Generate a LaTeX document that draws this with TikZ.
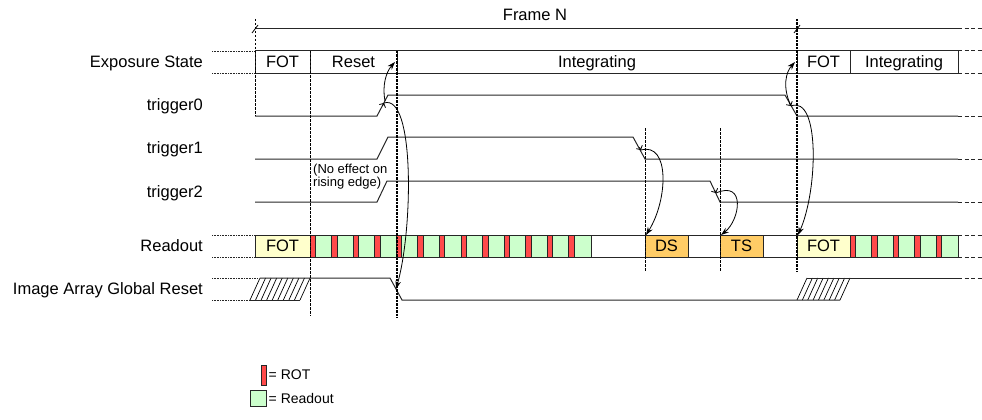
\documentclass[tikz,border=0pt]{standalone}
\usepackage{fontspec}
\setmainfont{Liberation Sans}
\usetikzlibrary{arrows.meta,calc}
\definecolor{fotc}{HTML}{FFFFCC}
\definecolor{rdc}{HTML}{CCFFCC}
\definecolor{rotc}{HTML}{FF4A4A}
\definecolor{dsc}{HTML}{FFCC66}
\definecolor{lnc}{HTML}{262626}
\begin{document}
\begin{tikzpicture}[x=1pt,y=-1pt,
  lbl/.style={anchor=east,font=\fontsize{16.5}{18}\selectfont,inner sep=0pt,text height=11.8pt,text depth=0pt},
  cell/.style={draw=lnc,line width=1pt,anchor=north west,minimum height=22pt,inner sep=0pt,outer sep=0pt,
    font=\fontsize{16.5}{18}\selectfont,text height=11.8pt,text depth=0pt},
  sig/.style={draw=lnc,line width=1pt},
  ext/.style={draw=lnc,line width=1pt,dash pattern=on 4pt off 2.5pt},
  refl/.style={draw=lnc,line width=0.7pt,dash pattern=on 0.8pt off 0.8pt},
  vguide/.style={draw=black,line width=0.9pt,dash pattern=on 2.5pt off 1.5pt},
  vguideb/.style={draw=black,line width=1.7pt,dash pattern=on 2.5pt off 1pt},
  cause/.style={draw=black,line width=0.8pt,-{Stealth[length=8pt,width=5.5pt]}},
  edgemark/.style={draw=black,line width=0.8pt,-{Straight Barb[length=3pt,width=7pt]}},
  hatch/.style={draw=black,line width=0.7pt},
]
\useasboundingbox (0,0) rectangle (982,420);

% ---------- frame ----------
\node[font=\fontsize{16.5}{18}\selectfont,inner sep=0pt] (frame) at (535,15) {Frame N};
\coordinate (fs) at (255,29);
\coordinate (fe) at (958,29);
\draw[sig] (fs) -- (fe);
\draw[ext] (fe) -- (982,29);
\draw[line width=0.8pt] (252,33) -- (258,25);
\draw[line width=0.8pt] (794,33) -- (800,25);

% ---------- labels ----------
\node[lbl] (lexp) at (203,62) {Exposure State};
\node[lbl] (lt0) at (203,105) {trigger0};
\node[lbl] (lt1) at (203,148) {trigger1};
\node[lbl] (lt2) at (203,192) {trigger2};
\node[lbl] (lrd) at (203,246) {Readout};
\node[lbl] (lgr) at (203,289) {Image Array Global Reset};

% ---------- exposure state ----------
\node[cell,minimum width=55pt] (e1) at (255,51) {FOT};
\node[cell,minimum width=87pt] (e2) at (310,51) {Reset};
\node[cell,minimum width=400pt] (e3) at (397,51) {Integrating};
\node[cell,minimum width=53pt] (e4) at (797,51) {FOT};
\node[cell,minimum width=108pt] (e5) at (850,51) {Integrating};
\draw[ext] (e5.north east) -- ++(24,0);
\draw[ext] (e5.south east) -- ++(24,0);
\draw[refl] (212,51) -- (e1.north west);
\draw[refl] (212,73) -- (e1.south west);

% ---------- triggers ----------
\draw[sig] (255,116) -- (377,116) -- (388,95) -- (785,95) -- (797,116) -- (958,116);
\draw[ext] (958,116) -- (982,116);
\draw[sig] (255,159) -- (377,159) -- (388,137) -- (633,137) -- (645,159) -- (958,159);
\draw[ext] (958,159) -- (982,159);
\draw[sig] (255,202) -- (377,202) -- (387,181) -- (710,181) -- (720,202) -- (958,202);
\draw[ext] (958,202) -- (982,202);

\node[anchor=north west,inner sep=0pt,align=left,font=\fontsize{13}{11.7}\selectfont] (noeff) at (313,163.5) {(No effect on\\rising edge)};

% ---------- readout ----------
\node[cell,fill=fotc,minimum width=55pt] (r1) at (255,235) {FOT};
\node[cell,fill=rdc,minimum width=281pt] (rg1) at (310,235) {};
\foreach \k in {0,...,12} \node[cell,fill=rotc,minimum width=5.5pt] (rota\k) at ({310+21.58*\k},235) {};
\node[cell,minimum width=54pt] (r2) at (591,235) {};
\node[cell,fill=dsc,minimum width=43pt] (ds) at (645,235) {DS};
\node[cell,minimum width=32pt] (r3) at (688,235) {};
\node[cell,fill=dsc,minimum width=43pt] (ts) at (720,235) {TS};
\node[cell,minimum width=34pt] (r4) at (763,235) {};
\node[cell,fill=fotc,minimum width=53pt] (r5) at (797,235) {FOT};
\node[cell,fill=rdc,minimum width=108pt] (rg2) at (850,235) {};
\foreach \k in {0,...,4} \node[cell,fill=rotc,minimum width=5.5pt] (rotb\k) at ({850+21.6*\k},235) {};
\draw[ext] (rg2.north east) -- ++(24,0);
\draw[ext] (rg2.south east) -- ++(24,0);
\draw[refl] (212,235) -- (r1.north west);
\draw[refl] (212,257) -- (r1.south west);

% ---------- image array global reset ----------
\foreach \i in {0,...,9} \draw[hatch] ({250+5.56*\i},300) -- ({260+5.56*\i},278);
\foreach \i in {0,...,8} \draw[hatch] ({797+5.375*\i},300) -- ({807+5.375*\i},278);
\draw[sig] (250,300) -- (300,300);
\draw[sig] (260,278) -- (390,278) -- (402,300) -- (840,300);
\draw[sig] (807,278) -- (958,278);
\draw[ext] (958,278) -- (982,278);
\draw[refl] (212,278) -- (258,278);
\draw[refl] (212,300) -- (250,300);
\coordinate (grf) at (396,289);

% ---------- vertical guides ----------
\draw[vguide] (255,19) -- (255,116);
\draw[vguide] (310,51) -- (310,316);
\draw[vguideb] (397,51) -- (397,318);
\draw[vguide] (645,128) -- (645,272);
\draw[vguide] (720,128) -- (720,272);
\draw[vguideb] (797,19) -- (797,272);

% ---------- edge marks ----------
\coordinate (t0r) at (384,103);
\coordinate (t1f) at (641,150);
\coordinate (t2f) at (716,193);
\coordinate (t0f) at (791,106);
\draw[edgemark] ($(t0r)+(-1.5,2.9)$) -- (t0r);
\draw[edgemark] ($(t1f)+(-1.6,-2.8)$) -- (t1f);
\draw[edgemark] ($(t2f)+(-1.4,-2.9)$) -- (t2f);
\draw[edgemark] ($(t0f)+(-1.7,-2.9)$) -- (t0f);

% ---------- cause arrows ----------
\draw[cause] (385,101) .. controls (382,86) and (386,72) .. ($(e3.west)+(-2,0)$);
\draw[cause] (t0r) .. controls (415,93) and (413,230) .. (grf);
\draw[cause] (t1f) .. controls (670,142) and (668,200) .. ($(ds.north west)+(1,0)$);
\draw[cause] (t2f) .. controls (746,180) and (740,220) .. ($(ts.north west)+(1,0)$);
\draw[cause] (t0f) .. controls (782,87) and (786,72) .. ($(e4.west)+(-2,0)$);
\draw[cause] (t0f) .. controls (820,95) and (818,190) .. ($(r5.north west)+(1,0)$);

% ---------- legend ----------
\node[cell,fill=rotc,minimum width=5pt,minimum height=20pt] (legrot) at (261,365) {};
\node[anchor=west,inner sep=0pt,font=\fontsize{14}{16}\selectfont] (legrott) at (268.5,375) {= ROT};
\node[cell,fill=rdc,minimum width=16pt,minimum height=16pt] (legrd) at (250,390) {};
\node[anchor=west,inner sep=0pt,font=\fontsize{14}{16}\selectfont] (legrdt) at (268.5,398) {= Readout};
\end{tikzpicture}
\end{document}
